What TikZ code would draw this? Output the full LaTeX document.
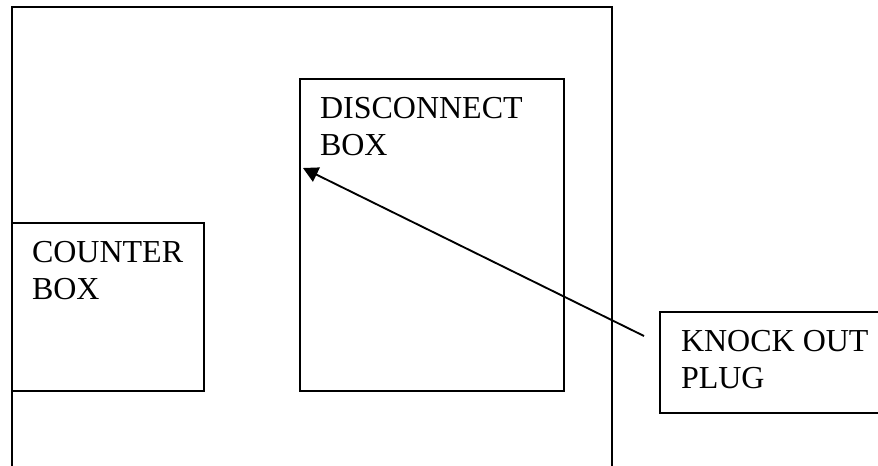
\documentclass[tikz,border=0pt]{standalone}
\usepackage{fontspec}
\setmainfont{Liberation Serif}
\usetikzlibrary{arrows.meta}
\tikzset{
  px/.style={x=0.75pt,y=-0.75pt},
  frameline/.style={draw=black,line width=1.5pt,line join=miter},
  boxshape/.style={frameline,rectangle,inner sep=0pt,outer sep=0pt,anchor=north west},
  lbl/.style={anchor=north west,inner sep=0pt,outer sep=0pt,align=left,text=black,font=\fontsize{24pt}{27.6pt}\selectfont},
  pointer/.style={draw=black,line width=1.4pt,-{Triangle[length=11.25pt,width=11.7pt,fill=black]}},
}
\begin{document}
\begin{tikzpicture}[px]
\useasboundingbox (0,0) rectangle (878,466);
\fill[white] (0,0) rectangle (878,466);
% outer frame, open at the bottom
\coordinate (outerBL) at (12,467);
\coordinate (outerTL) at (12,7);
\coordinate (outerTR) at (612,7);
\coordinate (outerBR) at (612,467);
\draw[frameline] (outerBL) -- (outerTL) -- (outerTR) -- (outerBR);
% counter box
\node[boxshape,minimum width=144pt,minimum height=125.6pt] (counter) at (12,223.5) {};
\node[lbl] (counterText) at (32,241.5) {COUNTER\\BOX};
% disconnect box
\node[boxshape,minimum width=198pt,minimum height=234pt] (disconnect) at (300,79) {};
\node[lbl] (disconnectText) at (320,97.5) {DISCONNECT\\BOX};
% knock-out box, running off the right edge
\coordinate (plugTR) at (879,312);
\coordinate (plugTL) at (660,312);
\coordinate (plugBL) at (660,413);
\coordinate (plugBR) at (879,413);
\draw[frameline] (plugTR) -- (plugTL) -- (plugBL) -- (plugBR);
\node[lbl] (plugText) at (681,330.5) {KNOCK OUT\\PLUG};
% pointer
\coordinate (pointerStart) at (644,336);
\coordinate (pointerTip) at (303,168);
\draw[pointer] (pointerStart) -- (pointerTip);
\end{tikzpicture}
\end{document}
